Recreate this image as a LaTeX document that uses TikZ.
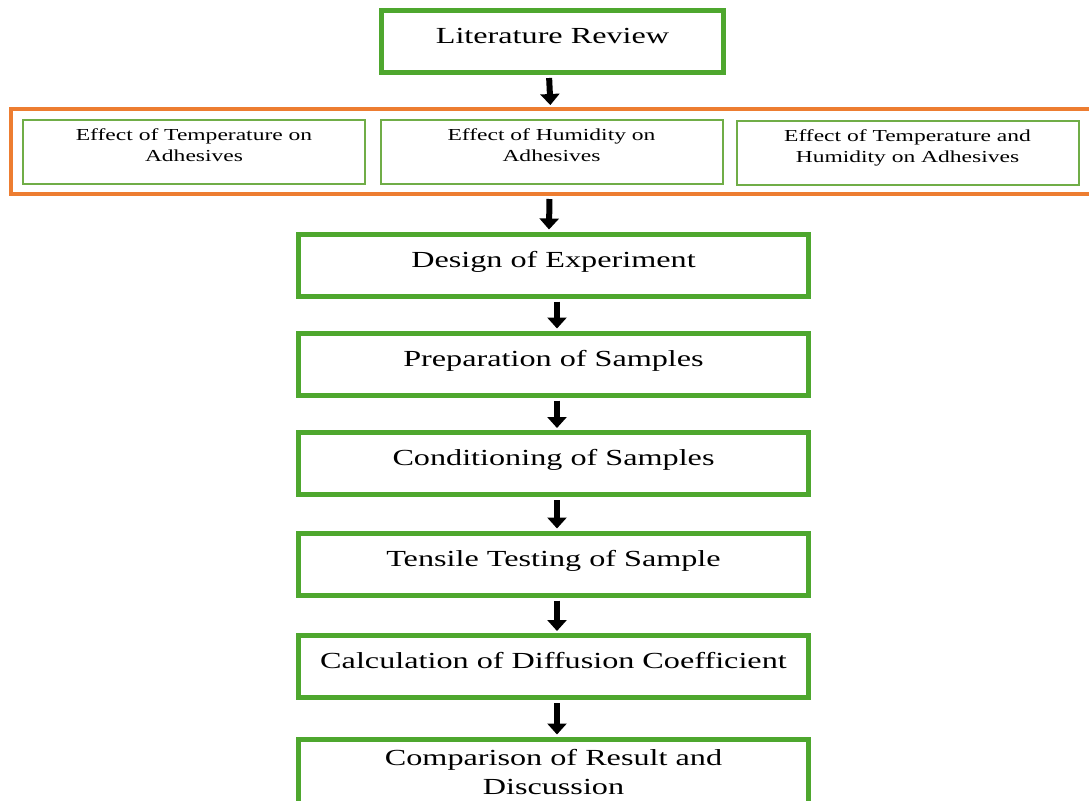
\documentclass[tikz,border=0pt]{standalone}
\usepackage{fontspec}
\setmainfont{Liberation Serif}[FakeStretch=1.4]
\usepackage{tikz}
\usetikzlibrary{arrows.meta}
\definecolor{stagegreen}{RGB}{78,167,46}
\definecolor{topicgreen}{RGB}{112,173,71}
\definecolor{grouporange}{RGB}{237,125,49}

\begin{document}
\begin{tikzpicture}[x=0.5pt,y=-0.5pt]
        \tikzstyle{every node} = [rectangle]
        \tikzstyle{stage} = [draw=stagegreen, line width=2.5pt, minimum width=255pt, minimum height=31pt, text height=8pt, text depth=6pt, font=\fontsize{11.5}{14.5}\selectfont, align=center]
        \tikzstyle{topic} = [draw=topicgreen, line width=1pt, minimum width=171pt, minimum height=32pt, text depth=6.8pt, font=\fontsize{8.4}{10.5}\selectfont, align=center]
        \tikzstyle{flow} = [line width=3pt, -{Triangle[width=9.5pt,length=5.5pt]}, shorten <=1.5pt, shorten >=1pt]
        \useasboundingbox (0,0) rectangle (1089,800);
        \clip (0,0) rectangle (1089,800);
        \node[stage, minimum width=171pt] (lit) at (552.5,41.5) {Literature Review};
        \node[draw=grouporange, line width=2pt, minimum width=543pt, minimum height=42.5pt] (effects) at (554,151.5) {};
        \node[topic] (temp) at (194,152) {Effect of Temperature on\\Adhesives};
        \node[topic] (hum) at (551.5,151.5) {Effect of Humidity on\\Adhesives};
        \node[topic] (both) at (907.5,152.5) {Effect of Temperature and\\Humidity on Adhesives};
        \node[stage] (design) at (553.5,265) {Design of Experiment};
        \node[stage] (prep) at (553.5,364) {Preparation of Samples};
        \node[stage] (cond) at (553.5,463.5) {Conditioning of Samples};
        \node[stage] (tensile) at (553.5,564) {Tensile Testing of Sample};
        \node[stage] (calc) at (553.5,666.5) {Calculation of Diffusion Coefficient};
        \node[stage, minimum height=36pt, text height=, text depth=3pt] (comp) at (553.5,775) {Comparison of Result and\\Discussion};
        \foreach \from/\to/\dx in {lit/effects/-1.75, effects/design/-2.25, design/prep/1.75, prep/cond/1.75, cond/tensile/1.75, tensile/calc/1.75, calc/comp/1.75}
            \draw[flow] ([xshift=\dx pt]\from.south) -- ([xshift=\dx pt]\to.north);
\end{tikzpicture}
\end{document}
